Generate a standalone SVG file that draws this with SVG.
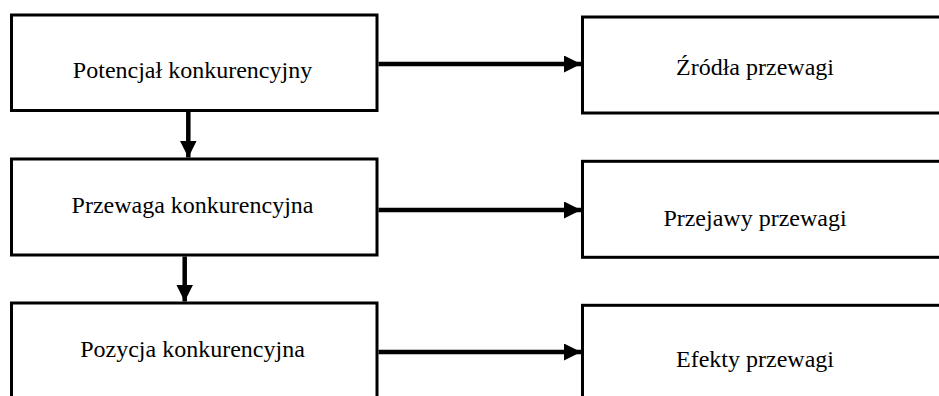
<svg xmlns="http://www.w3.org/2000/svg" width="939" height="396" viewBox="0 0 939 396">
<style>
.box{fill:#fff;stroke:#000;stroke-width:3}
.t{font-family:"Liberation Serif","Times New Roman",serif;font-size:24px;fill:#000;text-anchor:middle}
.c{stroke:#000;stroke-width:4.5;fill:none;marker-end:url(#ah)}
</style>
<defs>
<marker id="ah" markerUnits="userSpaceOnUse" markerWidth="17" markerHeight="17" refX="16" refY="8" orient="auto" viewBox="0 0 16 16">
<path d="M0,0 L16,8 L0,16 Z" fill="#000"/>
</marker>
</defs>
<rect width="939" height="396" fill="#fff"/>
<g id="n1"><rect class="box" x="11.5" y="15" width="365.5" height="95.5"/><text class="t" x="192.5" y="78">Potencjał konkurencyjny</text></g>
<g id="n2"><rect class="box" x="11.5" y="159" width="365.5" height="96"/><text class="t" x="192.5" y="213">Przewaga konkurencyjna</text></g>
<g id="n3"><rect class="box" x="11.5" y="303" width="365.5" height="110"/><text class="t" x="192.5" y="357">Pozycja konkurencyjna</text></g>
<g id="n4"><rect class="box" x="582.5" y="17" width="370" height="96"/><text class="t" x="755" y="75">Źródła przewagi</text></g>
<g id="n5"><rect class="box" x="582.5" y="161.3" width="370" height="96"/><text class="t" x="755" y="226">Przejawy przewagi</text></g>
<g id="n6"><rect class="box" x="582.5" y="305.3" width="370" height="110"/><text class="t" x="755" y="367">Efekty przewagi</text></g>
<g id="connectors">
<path class="c" d="M378.5,64 H581"/>
<path class="c" d="M378.5,210 H581"/>
<path class="c" d="M378.5,352 H581"/>
<path class="c" d="M188.3,112 V157.5"/>
<path class="c" d="M184.7,256.5 V301.5"/>
</g>
</svg>
